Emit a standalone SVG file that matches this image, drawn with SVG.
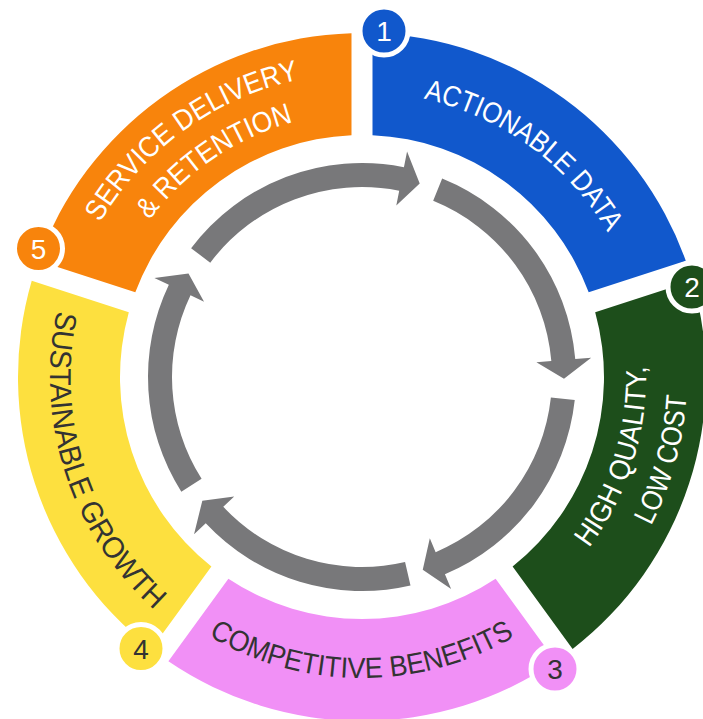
<svg xmlns="http://www.w3.org/2000/svg" xmlns:xlink="http://www.w3.org/1999/xlink" width="703" height="719" viewBox="0 0 703 719">
  <style>
    .lbl { font-family: "Liberation Sans", Arial, sans-serif; font-size: 29px; }
    .light { fill: #ffffff; }
    .dark { fill: #333333; }
    .num { font-family: "Liberation Sans", Arial, sans-serif; font-size: 28px; text-anchor: middle; }
    .badge { stroke: #ffffff; stroke-width: 5; }
    .arrow { fill: #78787a; }
  </style>
  <defs>
    <!-- one ring segment, 72 degrees wide, from -90 to -18 deg, with parallel 21px gaps -->
    <path id="seg" d="M10.5,-343.84 A344,344 0 0 1 323.77,-116.24 L226.70,-84.70 A242,242 0 0 0 10.5,-241.77 Z"/>
    <!-- baselines for the curved labels -->
    <path id="tp-blue" d="M-19.88,-284.30 A285,285 0 0 1 276.54,-68.95"/>
    <path id="tp-orange1" d="M-294.58,-75.09 A304,304 0 0 1 22.79,-303.15"/>
    <path id="tp-orange2" d="M-254.15,-71.44 A264,264 0 0 1 26.22,-262.70"/>
    <path id="tp-green1" d="M153.01,239.26 A284,284 0 0 0 262.19,-109.14"/>
    <path id="tp-green2" d="M185.02,267.20 A325,325 0 0 0 295.27,-135.81"/>
    <path id="tp-pink" d="M-193.81,230.30 A301,301 0 0 0 193.08,230.92"/>
    <path id="tp-yellow" d="M-289.28,-116.88 A312,312 0 0 0 -165.33,264.59"/>
  </defs>

  <g transform="translate(362,377)">
    <!-- inner cycle of arrows -->
    <g id="connectors" class="arrow">
      <path d="M-170.91,-128.79 A214,214 0 0 1 41.93,-209.85 L45.07,-225.54 L57.71,-193.58 L34.29,-171.61 L37.23,-186.32 A190,190 0 0 0 -151.74,-114.35 Z"/>
      <path d="M80.17,-198.42 A214,214 0 0 1 213.25,-17.91 L229.19,-19.25 L201.99,1.76 L174.39,-14.64 L189.33,-15.90 A190,190 0 0 0 71.18,-176.16 Z"/>
      <path d="M212.75,23.11 A214,214 0 0 1 82.93,197.28 L89.13,212.03 L60.74,192.65 L67.82,161.33 L73.63,175.15 A190,190 0 0 0 188.89,20.52 Z"/>
      <path d="M48.50,208.43 A214,214 0 0 1 -156.25,146.22 L-167.94,157.15 L-159.68,123.71 L-127.78,119.57 L-138.73,129.82 A190,190 0 0 0 43.06,185.06 Z"/>
      <path d="M-180.69,114.67 A214,214 0 0 1 -193.15,-92.13 L-207.60,-99.02 L-173.51,-103.43 L-157.95,-75.34 L-171.49,-81.80 A190,190 0 0 0 -160.42,101.81 Z"/>
    </g>

    <g id="node-1">
      <use xlink:href="#seg" href="#seg" fill="#1158cc"/>
      <text class="lbl light"><textPath xlink:href="#tp-blue" href="#tp-blue" startOffset="50%" text-anchor="middle" textLength="234" lengthAdjust="spacingAndGlyphs">ACTIONABLE DATA</textPath></text>
    </g>

    <g id="node-2">
      <use xlink:href="#seg" href="#seg" fill="#1d4e1b" transform="rotate(72)"/>
      <text class="lbl light"><textPath xlink:href="#tp-green1" href="#tp-green1" startOffset="50%" text-anchor="middle" textLength="194" lengthAdjust="spacingAndGlyphs">HIGH QUALITY,</textPath></text>
      <text class="lbl light"><textPath xlink:href="#tp-green2" href="#tp-green2" startOffset="50%" text-anchor="middle" textLength="136" lengthAdjust="spacingAndGlyphs">LOW COST</textPath></text>
    </g>

    <g id="node-3">
      <use xlink:href="#seg" href="#seg" fill="#f190f6" transform="rotate(144)"/>
      <text class="lbl dark"><textPath xlink:href="#tp-pink" href="#tp-pink" startOffset="50%" text-anchor="middle" textLength="321" lengthAdjust="spacingAndGlyphs">COMPETITIVE BENEFITS</textPath></text>
    </g>

    <g id="node-4">
      <use xlink:href="#seg" href="#seg" fill="#fde03f" transform="rotate(216)"/>
      <text class="lbl dark" style="font-size:30px"><textPath xlink:href="#tp-yellow" href="#tp-yellow" startOffset="50%" text-anchor="middle" textLength="330" lengthAdjust="spacingAndGlyphs">SUSTAINABLE GROWTH</textPath></text>
    </g>

    <g id="node-5">
      <use xlink:href="#seg" href="#seg" fill="#f8840c" transform="rotate(288)"/>
      <text class="lbl light"><textPath xlink:href="#tp-orange1" href="#tp-orange1" startOffset="50%" text-anchor="middle" textLength="252" lengthAdjust="spacingAndGlyphs">SERVICE DELIVERY</textPath></text>
      <text class="lbl light"><textPath xlink:href="#tp-orange2" href="#tp-orange2" startOffset="50%" text-anchor="middle" textLength="177" lengthAdjust="spacingAndGlyphs">&amp; RETENTION</textPath></text>
    </g>
  </g>

  <!-- numbered badges -->
  <g id="badge-1">
    <circle class="badge" cx="384" cy="31" r="24" fill="#1158cc"/>
    <text class="num light" x="384" y="41">1</text>
  </g>
  <g id="badge-2">
    <circle class="badge" cx="692" cy="287" r="24" fill="#1d4e1b"/>
    <text class="num light" x="692" y="297">2</text>
  </g>
  <g id="badge-3">
    <circle class="badge" cx="555" cy="669" r="24" fill="#f190f6"/>
    <text class="num dark" x="555" y="679">3</text>
  </g>
  <g id="badge-4">
    <circle class="badge" cx="141" cy="648.5" r="24" fill="#fde03f"/>
    <text class="num dark" x="141" y="658.5">4</text>
  </g>
  <g id="badge-5">
    <circle class="badge" cx="38.5" cy="248.5" r="24" fill="#f8840c"/>
    <text class="num light" x="38.5" y="258.5">5</text>
  </g>
</svg>
